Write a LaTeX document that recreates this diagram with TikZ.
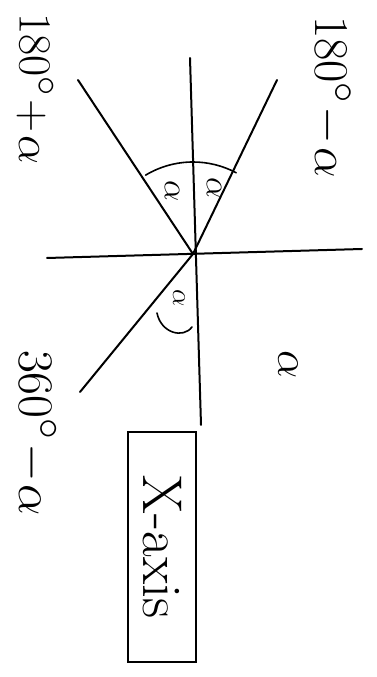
\documentclass[tikz,border=0pt]{standalone}
\usepackage{amsmath,amssymb}
\usepackage{tikz}
\usetikzlibrary{positioning,calc}

\newcommand{\bigtext}[2]{\scalebox{#1}{\Huge #2}}

\begin{document}
\begin{tikzpicture}[
    x=1pt, y=1pt,
    axis/.style={line width=2pt, line cap=round},
    ray/.style={line width=2pt, line cap=round},
    anglemark/.style={line width=1.6pt, line cap=round},
    lab/.style={rotate=-90, inner sep=0pt}
]
\useasboundingbox (0,0) rectangle (377,677);
\coordinate (O) at (193,423);
\coordinate (ytop) at (190,619);
\coordinate (ybot) at (201,252);
\coordinate (xl) at (47,419);
\coordinate (xr) at (362,428);
\coordinate (ul) at (78,597);
\coordinate (ur) at (277,597);
\coordinate (ll) at (80,285);
\coordinate (hookA) at (157,364);
\coordinate (hookB) at (192,350);
% axes and rays
\draw[axis] (ytop) -- (ybot);
\draw[axis] (xl) -- (xr);
\draw[ray] (O) -- (ul);
\draw[ray] (O) -- (ur);
\draw[ray] (O) -- (ll);
% angle marks
\draw[anglemark] ($(O)+(62:92)$) arc[start angle=62, end angle=90, radius=92];
\draw[anglemark] ($(O)+(90:92)$) arc[start angle=90, end angle=121, radius=92];
\draw[anglemark] (hookA) .. controls (161,344) and (183,338) .. (hookB);
\node[lab] (aL) at (172,486) {\bigtext{1.35}{$\alpha$}};
\node[lab] (aR) at (214,489) {\bigtext{1.35}{$\alpha$}};
\node[lab] (aB) at (179,379) {\bigtext{1.1}{$\alpha$}};
\node[lab] (aQ) at (288,312) {\bigtext{1.8}{$\alpha$}};
% quadrant labels
\node[lab] (q2) at (35,588) {\bigtext{1.85}{$180^\circ\!+\!\alpha$}};
\node[lab] (q1) at (331,580) {\bigtext{1.95}{$180^\circ\!-\!\alpha$}};
\node[lab] (q3) at (36,244) {\bigtext{2.0}{$360^\circ\!-\!\alpha$}};
\node[lab, draw, line width=1.6pt, minimum width=230pt, minimum height=68pt,
      font=\fontsize{56}{60}\selectfont] (xax) at (162,130) {X-axis};
\end{tikzpicture}
\end{document}
